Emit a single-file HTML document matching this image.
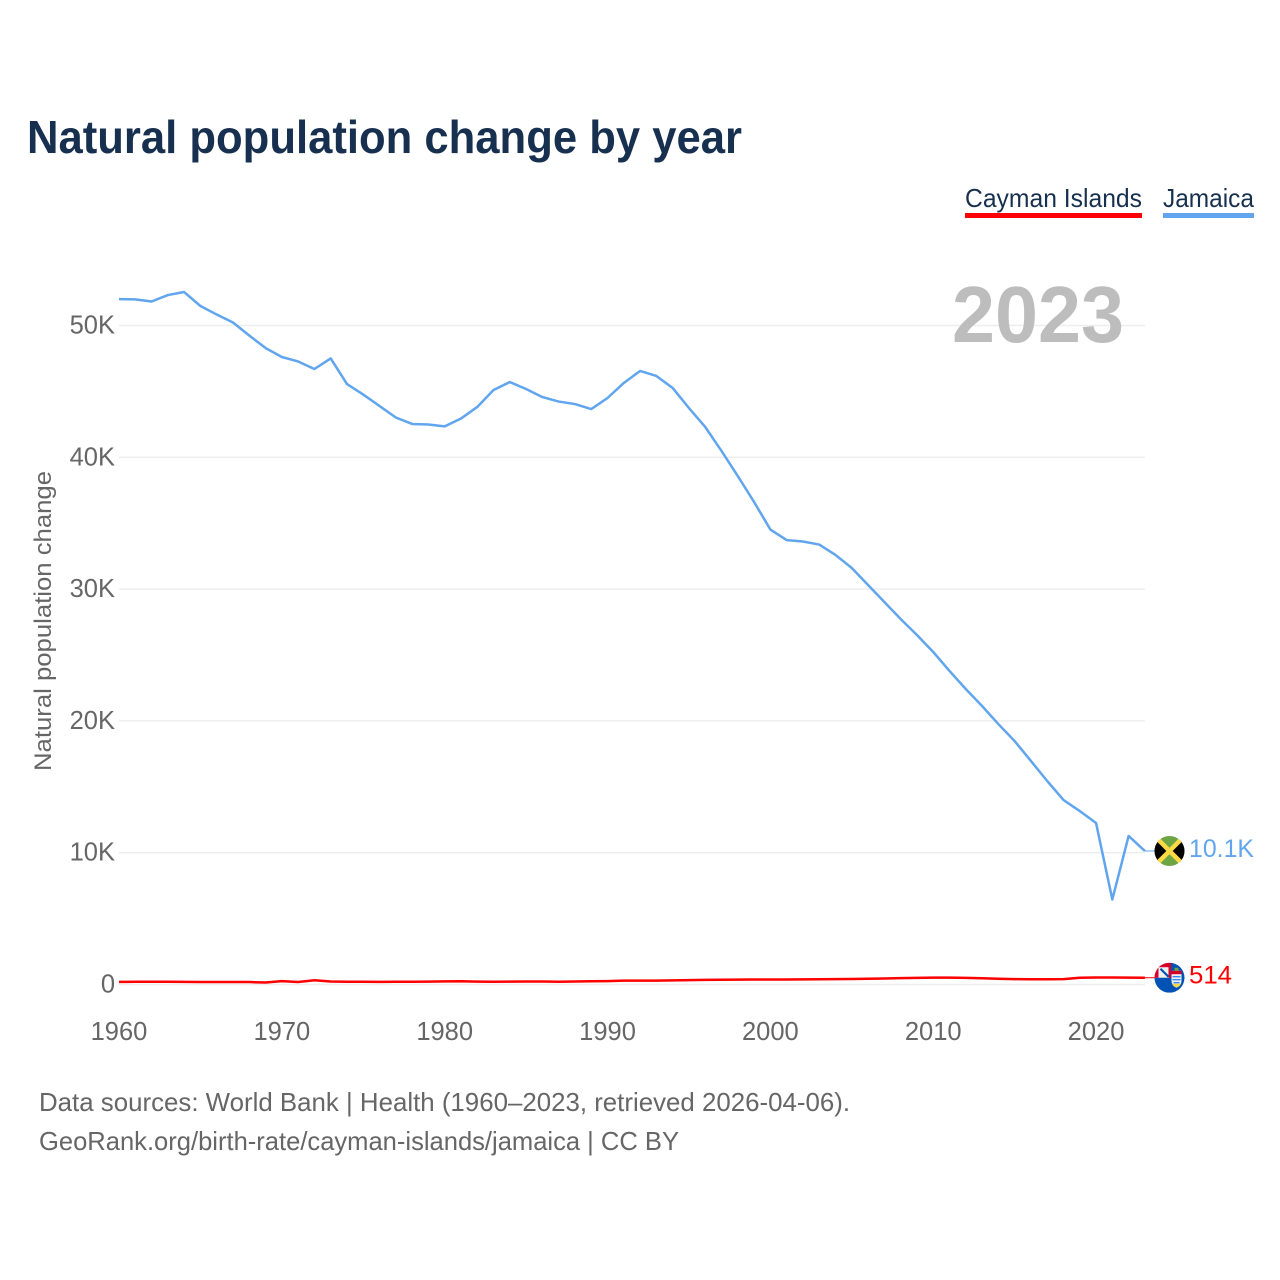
<!DOCTYPE html>
<html lang="en">
<head>
<meta charset="utf-8">
<title>Natural population change by year</title>
<style>
html,body{margin:0;padding:0;background:#fff;width:1280px;height:1280px;overflow:hidden}
svg{display:block}
text{font-family:"Liberation Sans",sans-serif}
</style>
</head>
<body>
<svg id="chart" width="1280" height="1280" viewBox="0 0 1280 1280" xmlns="http://www.w3.org/2000/svg">
  <defs>
    <clipPath id="flag-clip"><circle cx="0" cy="0" r="15"/></clipPath>
  </defs>
  <rect width="1280" height="1280" fill="#fff"/>
  <text x="27" y="153" font-size="46" font-weight="700" fill="#18304f" textLength="715" lengthAdjust="spacingAndGlyphs">Natural population change by year</text>

  <g>
    <g>
      <text x="965" y="207" font-size="26" fill="#18304f" textLength="177" lengthAdjust="spacingAndGlyphs">Cayman Islands</text>
      <rect x="965" y="213" width="177" height="5" fill="#ff0000"/>
    </g>
    <g>
      <text x="1163" y="207" font-size="26" fill="#18304f" textLength="91" lengthAdjust="spacingAndGlyphs">Jamaica</text>
      <rect x="1163" y="213" width="91" height="5" fill="#60a5ee"/>
    </g>
  </g>

  <g id="grid"></g>
  <g id="y-ticks"></g>
  <g id="x-ticks"></g>

  <text x="952" y="342" font-size="80" font-weight="700" fill="#bdbdbd" textLength="172" lengthAdjust="spacingAndGlyphs">2023</text>

  <text transform="translate(51,771) rotate(-90)" font-size="24" fill="#666" textLength="300" lengthAdjust="spacingAndGlyphs">Natural population change</text>

  <g id="series"></g>

  <g id="flag-jamaica">
    <g clip-path="url(#flag-clip)">
      <rect x="-15" y="-15" width="30" height="30" fill="#6da544"/>
      <polygon points="-15,-15 0,0 -15,15" fill="#000"/>
      <polygon points="15,-15 0,0 15,15" fill="#000"/>
      <line x1="-15" y1="-15" x2="15" y2="15" stroke="#ffda44" stroke-width="4.5"/>
      <line x1="15" y1="-15" x2="-15" y2="15" stroke="#ffda44" stroke-width="4.5"/>
    </g>
  </g>

  <g id="flag-cayman">
    <g clip-path="url(#flag-clip)">
      <rect x="-15" y="-15" width="30" height="30" fill="#0052b4"/>
      <rect x="-15" y="-15" width="15" height="15" fill="#f0f0f0"/>
      <rect x="-15" y="-15" width="15" height="4.5" fill="#d80027"/>
      <rect x="-15" y="-15" width="4" height="15" fill="#d80027"/>
      <rect x="-1" y="-15" width="2.6" height="15" fill="#d80027"/>
      <line x1="-9" y1="-9" x2="-1" y2="-1" stroke="#0052b4" stroke-width="2.2"/>
      <path d="M2,-7 h10 v10 q0,5 -5,7 q-5,-2 -5,-7 z" fill="#f0f0f0"/>
      <rect x="2" y="-7" width="10" height="3.5" fill="#d80027"/>
      <path d="M5,-10 h4 v3 h-4 z" fill="#6da544"/>
      <path d="M3,-1 h8 M3,2 h8 M4,5 h6" stroke="#338af3" stroke-width="1.4"/>
      <path d="M3,7 q4,5 8,0 v-1 h-8 z" fill="#ffda44"/>
    </g>
  </g>

  <text id="label-jamaica" x="1189" font-size="25" fill="#60a5ee" textLength="65" lengthAdjust="spacingAndGlyphs"></text>
  <text id="label-cayman" x="1189" font-size="25" fill="#ff0000" textLength="43" lengthAdjust="spacingAndGlyphs"></text>

  <g>
    <text x="39" y="1111" font-size="26" fill="#666" textLength="811" lengthAdjust="spacingAndGlyphs">Data sources: World Bank | Health (1960–2023, retrieved 2026-04-06).</text>
    <text x="39" y="1150" font-size="26" fill="#666" textLength="640" lengthAdjust="spacingAndGlyphs">GeoRank.org/birth-rate/cayman-islands/jamaica | CC BY</text>
  </g>
</svg>
<script>
const firstYear = 1960;
const jamaicaValues = [52000,51980,51820,52310,52540,51480,50830,50230,49240,48290,47610,47270,46700,47500,45560,44760,43890,43020,42530,42490,42350,42940,43820,45110,45710,45180,44570,44230,44040,43660,44500,45640,46550,46170,45260,43740,42300,40480,38580,36610,34520,33720,33610,33380,32590,31600,30310,29020,27730,26520,25230,23790,22420,21130,19760,18470,16960,15440,14000,13160,12250,6450,11270,10130];
const caymanValues = [200,205,205,205,195,185,185,185,185,150,260,190,320,230,210,210,200,210,210,220,240,250,220,210,220,225,225,210,225,250,260,290,290,295,310,330,350,360,370,375,380,380,385,395,405,420,440,460,480,500,520,520,500,470,440,410,400,400,410,510,530,530,525,514];
const yTickValues = [0,10000,20000,30000,40000,50000];
const yTickLabels = ['0','10K','20K','30K','40K','50K'];
const xTickYears = [1960,1970,1980,1990,2000,2010,2020];
const jamaicaEndLabel = '10.1K';
const caymanEndLabel = '514';

const NS = 'http://www.w3.org/2000/svg';
const plotLeft = 119, plotRight = 1144.9, yZero = 984.5, yTen = 852.7;
const lastYear = firstYear + jamaicaValues.length - 1;
function xScale(year) {
  return plotLeft + (year - firstYear) * (plotRight - plotLeft) / (lastYear - firstYear);
}
function yScale(value) {
  return yZero - value * (yZero - yTen) / 10000;
}
function linePoints(values) {
  return values.map(function (v, i) {
    return xScale(firstYear + i).toFixed(2) + ',' + yScale(v).toFixed(2);
  }).join(' ');
}

const grid = document.getElementById('grid');
const yTicks = document.getElementById('y-ticks');
yTickValues.forEach(function (v, i) {
  const line = document.createElementNS(NS, 'line');
  
  
  line.setAttribute('x1', plotLeft);
  line.setAttribute('x2', plotRight);
  line.setAttribute('y1', yScale(v));
  line.setAttribute('y2', yScale(v));
  line.setAttribute('stroke', '#eeeeee');
  line.setAttribute('stroke-width', '1.5');
  grid.appendChild(line);

  const label = document.createElementNS(NS, 'text');
  
  
  label.setAttribute('x', 115);
  label.setAttribute('y', yScale(v) + 8);
  label.setAttribute('text-anchor', 'end');
  label.setAttribute('font-size', '25.5');
  label.setAttribute('fill', '#666');
  label.textContent = yTickLabels[i];
  yTicks.appendChild(label);
});

const xTicks = document.getElementById('x-ticks');
xTickYears.forEach(function (year) {
  const label = document.createElementNS(NS, 'text');
  
  
  label.setAttribute('x', xScale(year));
  label.setAttribute('y', 1040);
  label.setAttribute('text-anchor', 'middle');
  label.setAttribute('font-size', '25.5');
  label.setAttribute('fill', '#666');
  label.textContent = String(year);
  xTicks.appendChild(label);
});

const series = document.getElementById('series');
function drawSeries(values, color, name) {
  const end = values[values.length - 1];
  const line = document.createElementNS(NS, 'polyline');
  
  
  line.setAttribute('points', linePoints(values));
  line.setAttribute('fill', 'none');
  line.setAttribute('stroke', color);
  line.setAttribute('stroke-width', '2.5');
  line.setAttribute('stroke-linejoin', 'round');
  series.appendChild(line);

  const connector = document.createElementNS(NS, 'line');
  
  
  connector.setAttribute('x1', plotRight);
  connector.setAttribute('x2', 1155);
  connector.setAttribute('y1', yScale(end));
  connector.setAttribute('y2', yScale(end));
  connector.setAttribute('stroke', color);
  connector.setAttribute('stroke-width', '1');
  series.appendChild(connector);
}
drawSeries(caymanValues, '#ff0000', 'cayman-islands');
drawSeries(jamaicaValues, '#60a5ee', 'jamaica');

const jamaicaEndY = yScale(jamaicaValues[jamaicaValues.length - 1]);
const caymanEndY = yScale(caymanValues[caymanValues.length - 1]);
document.getElementById('flag-jamaica').setAttribute('transform', 'translate(1169.5,' + jamaicaEndY + ')');
document.getElementById('flag-cayman').setAttribute('transform', 'translate(1169.5,' + caymanEndY + ')');
const labelJamaica = document.getElementById('label-jamaica');
labelJamaica.setAttribute('y', jamaicaEndY + 6);
labelJamaica.textContent = jamaicaEndLabel;
const labelCayman = document.getElementById('label-cayman');
labelCayman.setAttribute('y', caymanEndY + 6);
labelCayman.textContent = caymanEndLabel;
</script>
</body>
</html>
